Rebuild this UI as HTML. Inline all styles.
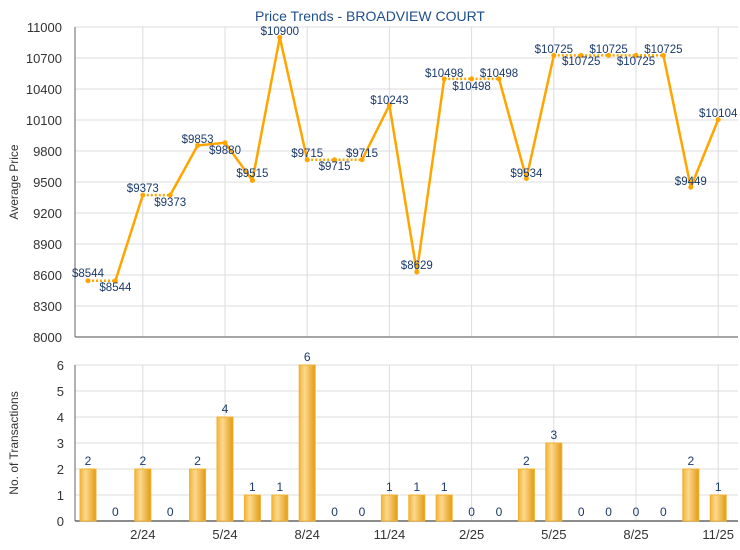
<!DOCTYPE html>
<html><head><meta charset="utf-8"><style>
html,body{margin:0;padding:0;background:#fff;}
svg{display:block;font-family:"Liberation Sans",Arial,sans-serif;}
</style></head><body>
<svg id="c" width="740" height="550" viewBox="0 0 740 550" xmlns="http://www.w3.org/2000/svg">
<defs>
<linearGradient id="bg" x1="0" x2="1" y1="0" y2="0">
<stop offset="0" stop-color="#f2b43a"/>
<stop offset="0.35" stop-color="#fcd98f"/>
<stop offset="1" stop-color="#e39a12"/>
</linearGradient>
</defs>
<text x="370" y="21" text-anchor="middle" font-size="14" fill="#1f4e8c">Price Trends - BROADVIEW COURT</text>
</svg>
<script>
const s=document.getElementById('c');const NS="http://www.w3.org/2000/svg";
function el(t,a,txt){const e=document.createElementNS(NS,t);for(const k in a)e.setAttribute(k,a[k]);if(txt!==undefined)e.textContent=txt;s.appendChild(e);return e;}
const L=75,R=738;
const X=i=>88+27.4*i;
const YP=v=>27+(11000-v)/300*31;
const YB=v=>521-v*26;
// top grid
for(let v=8000;v<=11000;v+=300){const y=YP(v);el('line',{x1:L,x2:R,y1:y,y2:y,stroke:'#dcdcdc','stroke-width':1});el('text',{x:62,y:y+5,'text-anchor':'end','font-size':13,fill:'#333'},v);}
for(let v=0;v<=6;v++){const y=YB(v);el('line',{x1:L,x2:R,y1:y,y2:y,stroke:'#dcdcdc','stroke-width':1});el('text',{x:64,y:y+5,'text-anchor':'end','font-size':13,fill:'#333'},v);}
const xl=['2/24','5/24','8/24','11/24','2/25','5/25','8/25','11/25'];
for(let k=0;k<8;k++){const x=X(2+3*k);el('line',{x1:x,x2:x,y1:27,y2:337,stroke:'#dcdcdc'});el('line',{x1:x,x2:x,y1:365,y2:521,stroke:'#dcdcdc'});el('text',{x:x,y:539,'text-anchor':'middle','font-size':13,fill:'#333'},xl[k]);}
el('line',{x1:L,x2:L,y1:27,y2:337,stroke:'#666'});el('line',{x1:L,x2:R,y1:337,y2:337,stroke:'#888','stroke-width':1.5});
el('line',{x1:L,x2:L,y1:365,y2:521,stroke:'#666'});el('line',{x1:L,x2:R,y1:521,y2:521,stroke:'#666','stroke-width':1.5});
el('text',{x:18,y:182,'text-anchor':'middle','font-size':12,fill:'#333',transform:'rotate(-90 18 182)'},'Average Price');
el('text',{x:18,y:443,'text-anchor':'middle','font-size':12,fill:'#333',transform:'rotate(-90 18 443)'},'No. of Transactions');
const P=[8544,8544,9373,9373,9853,9880,9515,10900,9715,9715,9715,10243,8629,10498,10498,10498,9534,10725,10725,10725,10725,10725,9449,10104];
const C=[2,0,2,0,2,4,1,1,6,0,0,1,1,1,0,0,2,3,0,0,0,0,2,1];
const LY=[273,287,188,202,139,150,173,31,153,166,153,100,265,73,86,73,173,49,61,49,61,49,181,113];
// bars
for(let i=0;i<24;i++){const x=X(i);if(C[i]>0){el('rect',{x:x-8,y:YB(C[i]),width:16,height:C[i]*26,fill:'url(#bg)',stroke:'#f0b030','stroke-width':1});}
el('text',{x:x,y:(C[i]>0?YB(C[i])-4:516),'text-anchor':'middle','font-size':12,fill:'#1a3a6a'},C[i]);}
// line
for(let i=0;i<23;i++){const a={x1:X(i),y1:YP(P[i]),x2:X(i+1),y2:YP(P[i+1]),stroke:'#ffa500','stroke-width':2.5};if(C[i+1]===0){a['stroke-dasharray']='2,2';a['stroke-width']=2.5;}el('line',a);}
for(let i=0;i<24;i++){el('circle',{cx:X(i),cy:YP(P[i]),r:2.5,fill:'#ffa500'});}
for(let i=0;i<24;i++){el('text',{x:X(i),y:LY[i]+4,'text-anchor':'middle','font-size':11.5,fill:'#1a3a6a'},'$'+P[i]);}
</script>
</body></html>
